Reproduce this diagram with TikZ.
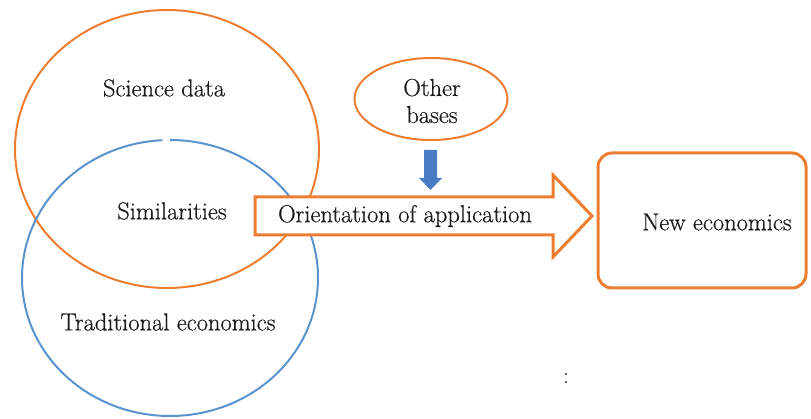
\documentclass[tikz,border=0pt]{standalone}
\usepackage{fontspec}
\newfontfamily\lmf{Latin Modern Roman}[FakeBold=0.5]
\usetikzlibrary{shapes.geometric}
\definecolor{orng}{HTML}{ED7D31}
\definecolor{bluc}{HTML}{5B93CF}
\definecolor{blua}{HTML}{4A7CC4}
\definecolor{txt}{HTML}{1A1A1A}
\tikzset{
  lbl/.style={text=txt, font=\lmf\fontsize{24.5}{27}\selectfont, inner sep=0pt, align=center},
  orline/.style={draw=orng, line width=2pt},
  blline/.style={draw=bluc, line width=2pt},
  bigarrow/.style={draw=orng, line width=3pt, fill=white, line join=miter},
}
\begin{document}
\begin{tikzpicture}[x=1pt,y=-1pt]
\useasboundingbox (0,0) rectangle (811,419);
% Venn circles
\draw[orline] (167,149) ellipse [x radius=152, y radius=139];
\draw[blline] (170,278) ++(270:148 and 138) arc[start angle=270, end angle=627, x radius=148, y radius=138];
% texts in circles
\node[lbl] (sci) at (164,88) {Science data};
\node[lbl] (sim) at (172,211) {Similarities};
\node[lbl] (trad) at (168,322) {Traditional economics};
% big arrow
\draw[bigarrow] (255,197) -- (553,197) -- (553,175) -- (592,216) -- (553,257) -- (553,235) -- (255,235) -- cycle;
\node[lbl] (orient) at (405,216) {Orientation of application};
% other bases
\node[ellipse, orline, minimum width=153, minimum height=82, inner sep=0pt] (oth) at (431,99) {};
\node[lbl] (othtxt) at (432,101) {Other\\bases};
% blue down arrow
\fill[blua] (424,150) -- (437,150) -- (437,178) -- (442,178) -- (430.5,190) -- (419,178) -- (424,178) -- cycle;
% new economics
\node[draw=orng, line width=3pt, rounded corners=14pt, minimum width=208, minimum height=135, inner sep=0pt] (newbox) at (702,220.5) {};
\node[lbl] (newtxt) at (717,222) {New economics};
% colon
\node[text=darkgray, font=\lmf\fontsize{24}{24}\selectfont, inner sep=0pt] (col) at (566,378) {:};
\end{tikzpicture}
\end{document}
